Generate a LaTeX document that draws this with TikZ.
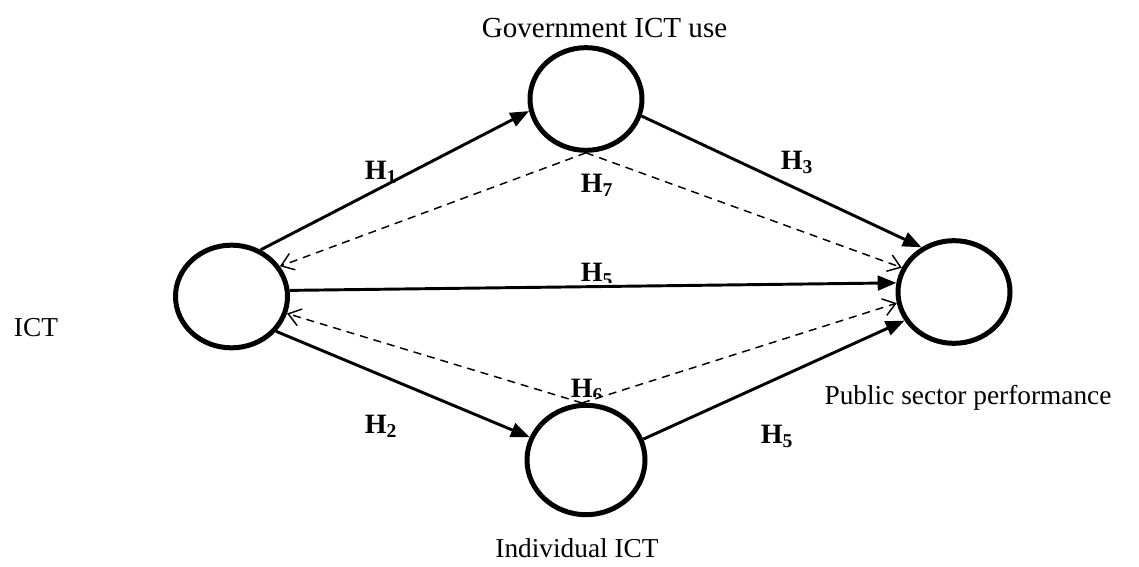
\documentclass[tikz,border=0pt]{standalone}
\usepackage{fontspec}
\setmainfont{Liberation Serif}
\usetikzlibrary{shapes.geometric,arrows.meta}
\begin{document}
\begin{tikzpicture}[x=0.75pt,y=-0.75pt,
  circ/.style={ellipse,draw,line width=3.75pt,minimum width=84pt,minimum height=77pt,inner sep=0pt},
  solidarrow/.style={line width=2.2pt,-{Triangle[length=14pt,width=11pt]}},
  dasharrow/.style={line width=1.1pt,dash pattern=on 6pt off 4.5pt,-{Straight Barb[length=9pt,width=13pt]}},
  lbl/.style={font=\fontsize{20.5}{24}\selectfont,inner sep=0pt},
  hl/.style={font=\fontsize{21}{24}\selectfont\bfseries,inner sep=0pt}
]
\useasboundingbox (0,0) rectangle (1139,567);
\node[circ] (ict) at (231.5,296.5) {};
\node[circ] (gov) at (586,99) {};
\node[circ] (pub) at (954,292) {};
\node[circ,minimum width=88.5pt,minimum height=82pt] (ind) at (586,460) {};

\node[lbl,font=\fontsize{21.8}{26}\selectfont] (tgov) at (604.5,28) {Government ICT use};
\node[lbl] (tict) at (36,328) {ICT};
\node[lbl] (tpub) at (968,398) {Public sector performance};
\node[lbl] (tind) at (577,548) {Individual ICT};

\draw[solidarrow] (ict.58) -- (gov.192);
\draw[solidarrow] (gov.343) -- (pub.126);
\draw[solidarrow] (ict.6) -- (pub.171);
\draw[solidarrow] (ict.322) -- (ind.158);
\draw[solidarrow] (ind.20) -- (pub.210);

\draw[dasharrow] (gov.270) -- (ict.32);
\draw[dasharrow] (gov.270) -- (pub.155);
\draw[dasharrow] (ind.94) -- (ict.343);
\draw[dasharrow] (ind.94) -- (pub.191);

\node[hl] (h1) at (381,172) {H\textsubscript{1}};
\node[hl] (h7) at (597,185) {H\textsubscript{7}};
\node[hl] (h3) at (797,162.5) {H\textsubscript{3}};
\node[hl] (h2) at (381,426) {H\textsubscript{2}};
\node[hl] (h5) at (777,436) {H\textsubscript{5}};
\begin{scope}
\clip (550,240) rectangle (640,282);
\node[hl] (h4) at (597,275) {H\textsubscript{5}};
\end{scope}
\begin{scope}
\clip (540,360) rectangle (630,396);
\node[hl] (h6) at (587,390.5) {H\textsubscript{6}};
\end{scope}
\end{tikzpicture}
\end{document}
